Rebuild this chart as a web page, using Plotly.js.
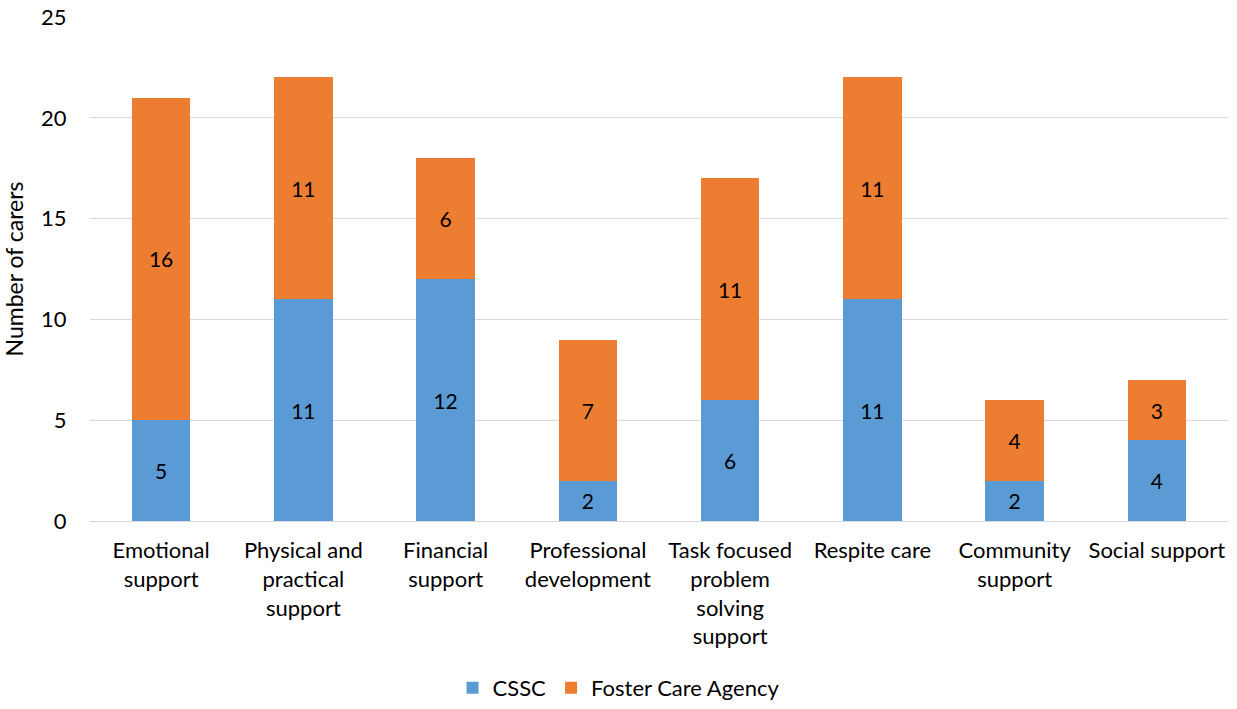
<!DOCTYPE html>
<html>
<head>
<meta charset="utf-8">
<script src="https://cdn.plot.ly/plotly-3.0.1.min.js"></script>
<style>html,body{margin:0;padding:0;background:#fff;}#chart{width:1237px;height:709px;}</style>
</head>
<body>
<div id="chart"></div>
<script>
const categories = [
  "Emotional<br>support",
  "Physical and<br>practical<br>support",
  "Financial<br>support",
  "Professional<br>development",
  "Task focused<br>problem<br>solving<br>support",
  "Respite care",
  "Community<br>support",
  "Social support"
];
const cssc = [5, 11, 12, 2, 6, 11, 2, 4];
const fosterCareAgency = [16, 11, 6, 7, 11, 11, 4, 3];

const FONT = "Lato, 'Open Sans', sans-serif";

const traces = [
  {
    type: "bar", name: "CSSC", x: categories, y: cssc,
    marker: {color: "#5B9BD5"},
    text: cssc.map(String), textposition: "inside", insidetextanchor: "middle",
    textfont: {color: "#000", size: 21, family: FONT}, constraintext: "none",
    hoverinfo: "skip"
  },
  {
    type: "bar", name: "Foster Care Agency", x: categories, y: fosterCareAgency,
    marker: {color: "#ED7D31"},
    text: fosterCareAgency.map(String), textposition: "inside", insidetextanchor: "middle",
    textfont: {color: "#000", size: 21, family: FONT}, constraintext: "none",
    hoverinfo: "skip"
  }
];

const layout = {
  width: 1237, height: 709,
  margin: {l: 90, r: 9, t: 17, b: 188, autoexpand: false},
  barmode: "stack",
  bargap: 0.59,
  paper_bgcolor: "#fff", plot_bgcolor: "#fff",
  font: {family: FONT, size: 22, color: "#000"},
  showlegend: true,
  legend: {orientation: "h", traceorder: "normal",
           xref: "container", x: 0.5, xanchor: "center",
           yref: "container", y: -0.011, yanchor: "bottom",
           font: {size: 22, family: FONT}, itemwidth: 30},
  xaxis: {type: "category", tickfont: {size: 22}, showline: true, linecolor: "#D9D9D9",
          linewidth: 1, ticks: "outside", ticklen: 10, tickcolor: "rgba(0,0,0,0)", automargin: false},
  yaxis: {range: [0, 25], dtick: 5, tickfont: {size: 22}, gridcolor: "#D9D9D9",
          zeroline: false, ticks: "outside", ticklen: 18, tickcolor: "rgba(0,0,0,0)",
          title: {text: "Number of carers", font: {size: 23}, standoff: 14}, automargin: false}
};

Plotly.newPlot("chart", traces, layout, {displayModeBar: false, staticPlot: true});
</script>
</body>
</html>
